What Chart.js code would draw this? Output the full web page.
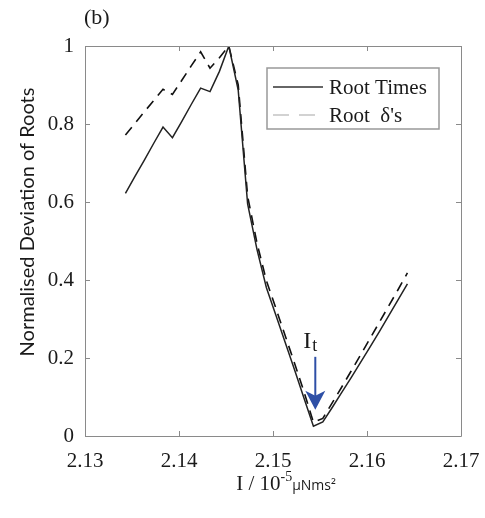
<!DOCTYPE html>
<html>
<head>
<meta charset="utf-8">
<script src="https://cdn.jsdelivr.net/npm/chart.js@4.4.1/dist/chart.umd.min.js"></script>
<style>
  html, body { margin: 0; padding: 0; background: #fff; }
</style>
</head>
<body>
<canvas id="rootChart" width="485" height="518"></canvas>
<script>
// I / 10^-5 uNms^2
const inertia = [2.1343, 2.1353, 2.1363, 2.1373, 2.1383, 2.1393, 2.1403, 2.1413, 2.1423, 2.1433,
                 2.1443, 2.1453, 2.1463, 2.1473, 2.1483, 2.1493, 2.1503, 2.1513, 2.1523, 2.1533,
                 2.1543, 2.1553, 2.1563, 2.1573, 2.1583, 2.1593, 2.1603, 2.1613, 2.1623, 2.1633,
                 2.1643];
const rootTimes = [0.622, 0.665, 0.707, 0.750, 0.792, 0.765, 0.807, 0.850, 0.892, 0.883,
                   0.935, 1.000, 0.887, 0.595, 0.478, 0.380, 0.310, 0.240, 0.169, 0.097,
                   0.025, 0.036, 0.073, 0.111, 0.149, 0.188, 0.227, 0.267, 0.308, 0.349,
                   0.390];
const rootDeltas = [0.772, 0.801, 0.831, 0.860, 0.889, 0.876, 0.912, 0.949, 0.985, 0.943,
                    0.970, 1.000, 0.900, 0.615, 0.494, 0.398, 0.328, 0.257, 0.186, 0.113,
                    0.035, 0.045, 0.085, 0.125, 0.166, 0.207, 0.249, 0.291, 0.333, 0.375,
                    0.418];
const seriesNames = ['Root Times', "Root  δ's"];
const xTicks = [2.13, 2.14, 2.15, 2.16, 2.17];
const yTicks = [0, 0.2, 0.4, 0.6, 0.8, 1];
// arrow marking I_t
const markX = 2.1545, markFrom = 0.203, markTo = 0.067;

const SERIF = '"Liberation Serif", "DejaVu Serif", serif';
const axisGrey = '#8a8a8a';

const framePlugin = {
  id: 'frame',
  afterDraw(chart) {
    const { ctx, chartArea: a, scales: { x, y } } = chart;
    ctx.save();
    // box + inward ticks on all sides
    ctx.strokeStyle = axisGrey;
    ctx.lineWidth = 1;
    ctx.beginPath();
    ctx.rect(a.left + 0.5, a.top + 0.5, a.right - a.left, a.bottom - a.top);
    xTicks.forEach(v => {
      const px = Math.round(x.getPixelForValue(v)) + 0.5;
      ctx.moveTo(px, a.bottom); ctx.lineTo(px, a.bottom - 5);
      ctx.moveTo(px, a.top); ctx.lineTo(px, a.top + 5);
    });
    yTicks.forEach(v => {
      const py = Math.round(y.getPixelForValue(v)) + 0.5;
      ctx.moveTo(a.left, py); ctx.lineTo(a.left + 5, py);
      ctx.moveTo(a.right, py); ctx.lineTo(a.right - 5, py);
    });
    ctx.stroke();

    // legend
    const bw = 172, bh = 61;
    const bx = a.right - 22 - bw, by = a.top + 22;
    ctx.fillStyle = '#fff';
    ctx.fillRect(bx, by, bw, bh);
    ctx.strokeStyle = '#999';
    ctx.lineWidth = 1.5;
    ctx.strokeRect(bx, by, bw, bh);
    const rows = [
      { y: by + 19, color: '#333', dash: [] },
      { y: by + 47, color: '#c4c4c4', dash: [16, 10] }
    ];
    rows.forEach((r, i) => {
      ctx.beginPath();
      ctx.setLineDash(r.dash);
      ctx.strokeStyle = r.color;
      ctx.lineWidth = 1.5;
      ctx.moveTo(bx + 6, r.y); ctx.lineTo(bx + 56, r.y);
      ctx.stroke();
      ctx.setLineDash([]);
      ctx.fillStyle = '#1a1a1a';
      ctx.font = '21px ' + SERIF;
      ctx.textBaseline = 'middle';
      ctx.textAlign = 'left';
      ctx.fillText(seriesNames[i], bx + 62, r.y + 1);
    });

    // I_t arrow
    const ax = x.getPixelForValue(markX);
    const y0 = y.getPixelForValue(markFrom), y1 = y.getPixelForValue(markTo);
    ctx.strokeStyle = '#2e4fa6';
    ctx.fillStyle = '#2e4fa6';
    ctx.lineWidth = 2;
    ctx.beginPath();
    ctx.moveTo(ax, y0); ctx.lineTo(ax, y1 - 12);
    ctx.stroke();
    ctx.beginPath();
    ctx.moveTo(ax, y1);
    ctx.lineTo(ax - 10, y1 - 19);
    ctx.lineTo(ax, y1 - 14);
    ctx.lineTo(ax + 10, y1 - 19);
    ctx.closePath();
    ctx.fill();
    ctx.fillStyle = '#1a1a1a';
    ctx.textBaseline = 'alphabetic';
    ctx.font = '24px ' + SERIF;
    ctx.fillText('I', ax - 12, y0 - 9);
    ctx.font = '18px ' + SERIF;
    ctx.fillText('t', ax - 3, y0 - 6);

    // y title
    ctx.save();
    ctx.translate(28, (a.top + a.bottom) / 2 - 19);
    ctx.rotate(-Math.PI / 2);
    ctx.font = '20px Lato, "Open Sans", sans-serif';
    ctx.fillStyle = '#1a1a1a';
    ctx.textAlign = 'center';
    ctx.textBaseline = 'middle';
    ctx.fillText('Normalised Deviation of Roots', 0, 0);
    ctx.restore();

    // x title: I / 10^-5 uNms^2
    const parts = [
      { t: 'I / 10', f: '21px ' + SERIF, dy: 0 },
      { t: '-5', f: '14px ' + SERIF, dy: -9 },
      { t: 'μNms²', f: '14px "Open Sans", sans-serif', dy: 0 }
    ];
    let total = 0;
    parts.forEach(p => { ctx.font = p.f; p.w = ctx.measureText(p.t).width; total += p.w; });
    let cx = (a.left + a.right) / 2 + 13 - total / 2;
    const base = a.bottom + 54;
    ctx.textAlign = 'left';
    parts.forEach(p => {
      ctx.font = p.f;
      ctx.fillText(p.t, cx, base + p.dy);
      cx += p.w;
    });

    // panel label
    ctx.font = '22px ' + SERIF;
    ctx.fillText('(b)', a.left - 1, 24);
    ctx.restore();
  }
};

new Chart(document.getElementById('rootChart'), {
  type: 'line',
  data: {
    datasets: [
      {
        label: seriesNames[0],
        data: inertia.map((v, i) => ({ x: v, y: rootTimes[i] })),
        borderColor: '#222',
        borderWidth: 1.5,
        pointRadius: 0,
        tension: 0
      },
      {
        label: seriesNames[1],
        data: inertia.map((v, i) => ({ x: v, y: rootDeltas[i] })),
        borderColor: '#111',
        borderWidth: 1.6,
        borderDash: [10, 7],
        pointRadius: 0,
        tension: 0
      }
    ]
  },
  options: {
    responsive: false,
    animation: false,
    devicePixelRatio: 1,
    layout: { padding: { top: 46, right: 24, left: 0, bottom: 0 } },
    plugins: { legend: { display: false }, tooltip: { enabled: false } },
    scales: {
      x: {
        type: 'linear',
        min: 2.13,
        max: 2.17,
        afterBuildTicks: s => { s.ticks = xTicks.map(v => ({ value: v })); },
        afterFit: s => { s.height = 82; s.paddingLeft = 0; s.paddingRight = 0; },
        grid: { display: false, drawTicks: false },
        border: { display: false },
        ticks: {
          padding: 13,
          maxRotation: 0,
          color: '#1a1a1a',
          font: { family: SERIF, size: 21 },
          callback: v => v.toFixed(2)
        }
      },
      y: {
        min: 0,
        max: 1,
        afterBuildTicks: s => { s.ticks = yTicks.map(v => ({ value: v })); },
        afterFit: s => { s.width = 85; s.paddingTop = 0; s.paddingBottom = 0; },
        grid: { display: false, drawTicks: false },
        border: { display: false },
        ticks: {
          padding: 11,
          color: '#1a1a1a',
          font: { family: SERIF, size: 21 },
          callback: v => (v === 0 || v === 1) ? String(v) : v.toFixed(1)
        }
      }
    }
  },
  plugins: [framePlugin]
});
</script>
</body>
</html>
